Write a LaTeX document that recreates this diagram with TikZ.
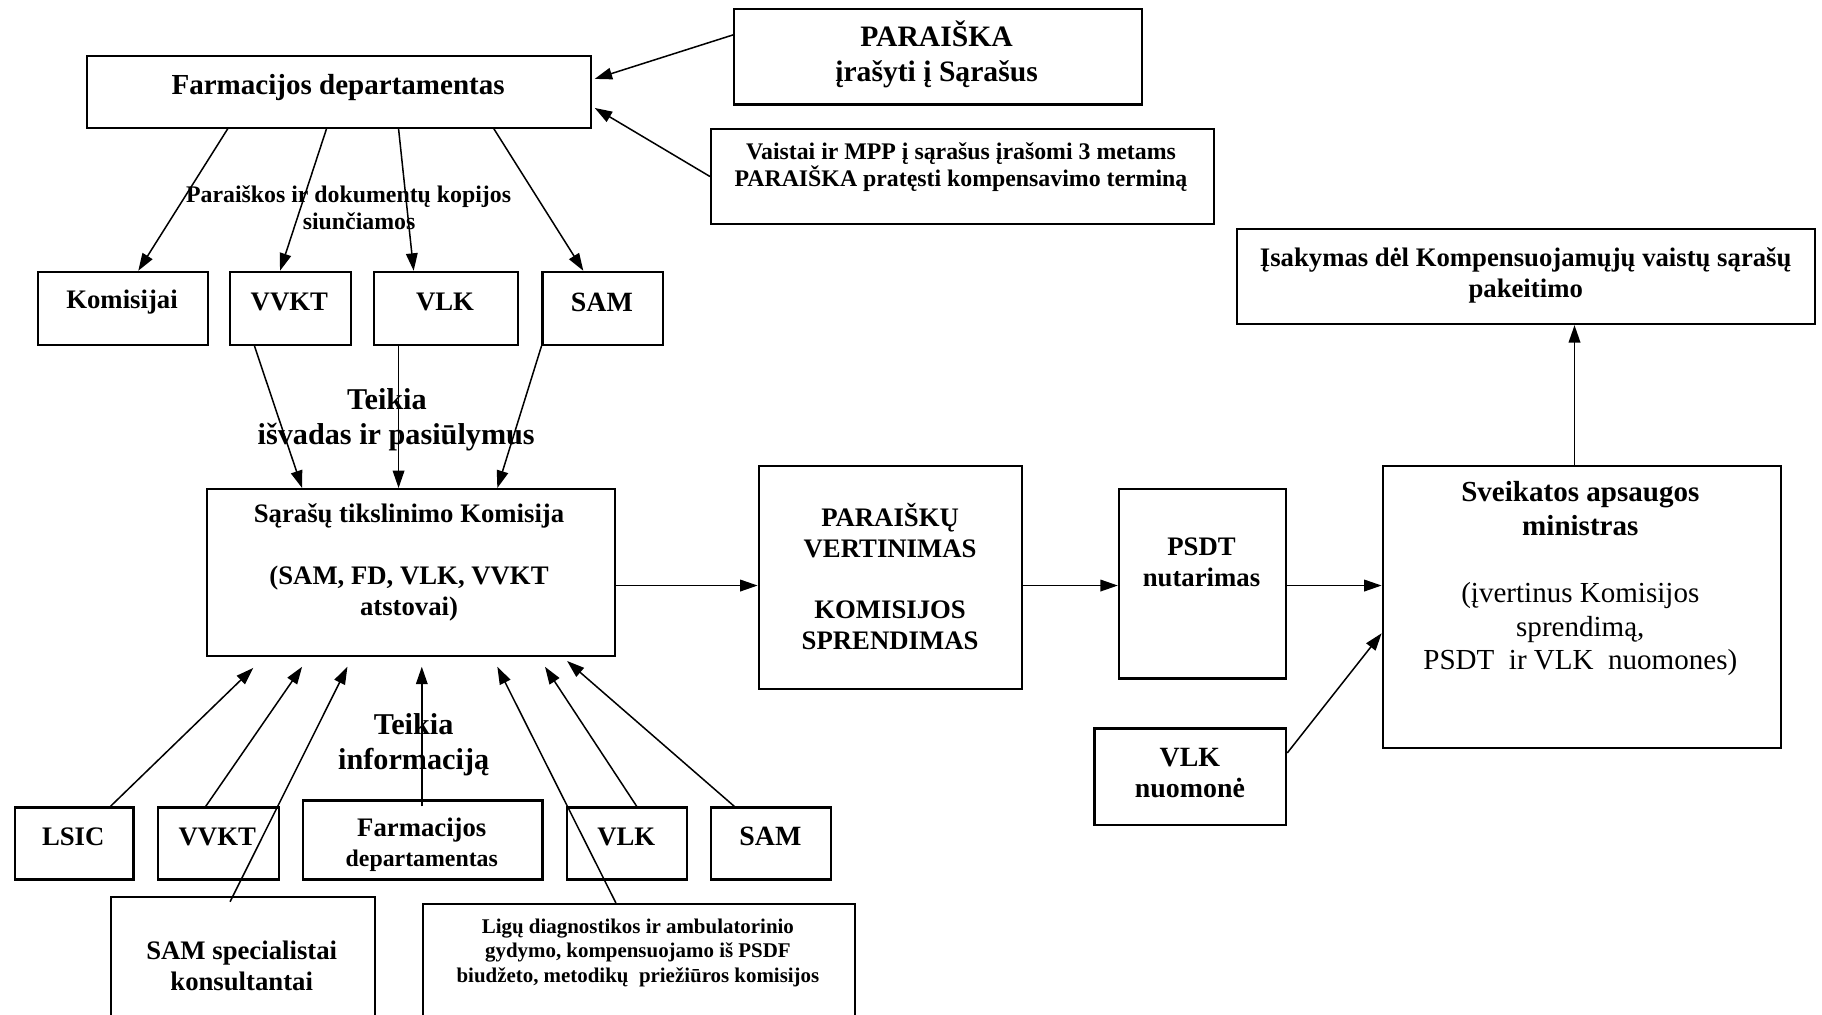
\documentclass[tikz,border=0pt]{standalone}
\usepackage{fontspec}
\setmainfont{Liberation Serif}
\usetikzlibrary{arrows.meta}
\newcommand\myfs[2]{\fontsize{#1}{#2}\selectfont}
\newcommand\mybox[5]{\node[box, anchor=north west, minimum width={(#3-#1)*1pt}, minimum height={(#4-#2)*1pt}] (#5) at (#1,#2) {};}
\begin{document}
\begin{tikzpicture}[x=1pt,y=-1pt,
  box/.style={draw, line width=1.8pt, inner sep=0pt},
  arr/.style={-{Triangle[length=15pt,width=10pt]}, line width=1.3pt},
  txt/.style={align=center, inner sep=0pt}]
\fill[white] (0,0) rectangle (1568,873);
\useasboundingbox (0,0) rectangle (1568,873);
% boxes
\mybox{74}{47}{508}{109}{fd}
\mybox{631}{7}{982}{89}{par}
\mybox{611}{110}{1044}{192}{vai}
\mybox{32}{233}{178}{296}{komj}
\mybox{197}{233}{301}{296}{vvkt}
\mybox{321}{233}{445}{296}{vlk}
\mybox{466}{233}{570}{296}{sam}
\mybox{177}{420}{528}{564}{kom}
\mybox{652}{400}{879}{592}{pv}
\mybox{962}{420}{1106}{583}{psdt}
\mybox{1189}{400}{1532}{643}{min}
\mybox{1064}{196}{1561}{278}{isak}
\mybox{941}{626}{1106}{709}{vlkn}
\mybox{12}{694}{114}{756}{lsic}
\mybox{135}{694}{239}{756}{vvktb}
\mybox{260}{688}{466}{756}{fdb}
\mybox{487}{694}{590}{756}{vlkb}
\mybox{611}{694}{714}{756}{samb}
\mybox{95}{771}{322}{885}{ss}
\mybox{363}{777}{735}{885}{lig}
% texts
\node[txt, font=\myfs{25}{29}\bfseries] (tfd) at (291,75) {Farmacijos departamentas};
\node[txt, font=\myfs{25.5}{30}\bfseries] (tpar) at (806,47) {PARAIŠKA\\įrašyti į Sąrašus};
\node[txt, font=\myfs{20.5}{23}\bfseries] (tvai) at (827,144) {Vaistai ir MPP į sąrašus įrašomi 3 metams\\PARAIŠKA pratęsti kompensavimo terminą};
\node[txt, font=\myfs{20.5}{23}\bfseries] (lpar) at (300,179) {Paraiškos ir dokumentų kopijos\\\hspace*{18pt}siunčiamos};
\node[txt, font=\myfs{23}{26}\bfseries] (tkomj) at (105,260) {Komisijai};
\node[txt, font=\myfs{23}{26}\bfseries] (tvvkt) at (249,260) {VVKT};
\node[txt, font=\myfs{23}{26}\bfseries] (tvlk) at (383,260) {VLK};
\node[txt, font=\myfs{24}{26}\bfseries] (tsam) at (518,260) {SAM};
\node[txt, font=\myfs{26}{30}\bfseries] (lteik) at (341,361) {Teikia\hspace*{16pt}\\išvadas ir pasiūlymus};
\node[txt, font=\myfs{23}{26.5}\bfseries] (tkom) at (352,484) {Sąrašų tikslinimo Komisija\\[26.5pt](SAM, FD, VLK, VVKT\\atstovai)};
\node[txt, font=\myfs{23}{26.5}\bfseries] (tpv) at (766,496) {PARAIŠKŲ\\VERTINIMAS\\[26.5pt]KOMISIJOS\\SPRENDIMAS};
\node[txt, font=\myfs{23}{27}\bfseries] (tpsdt) at (1034,484) {PSDT\\nutarimas};
\node[txt, font=\myfs{25}{29}] (tmin) at (1360,498) {{\bfseries Sveikatos apsaugos}\\{\bfseries ministras}\\[29pt](įvertinus Komisijos\\sprendimą,\\PSDT\ \ ir VLK\ \ nuomones)};
\node[txt, font=\myfs{23}{27}\bfseries] (tisak) at (1313,237) {Įsakymas dėl Kompensuojamųjų vaistų sąrašų\\pakeitimo};
\node[txt, font=\myfs{24}{27}\bfseries] (tvlkn) at (1024,665) {VLK\\nuomonė};
\node[txt, font=\myfs{23}{26}\bfseries] (tlsic) at (63,720) {LSIC};
\node[txt, font=\myfs{23}{26}\bfseries] (tvvktb) at (187,720) {VVKT};
\node[txt, font=\myfs{23}{26}\bfseries] (tfdb) at (363,727) {Farmacijos\\{\myfs{20.5}{26}departamentas}};
\node[txt, font=\myfs{23}{26}\bfseries] (tvlkb) at (539,720) {VLK};
\node[txt, font=\myfs{24}{26}\bfseries] (tsamb) at (663,720) {SAM};
\node[txt, font=\myfs{23}{27}\bfseries] (tss) at (208,831) {SAM specialistai\\konsultantai};
\node[txt, font=\myfs{18}{21}\bfseries] (tlig) at (549,820) {Ligų diagnostikos ir ambulatorinio\\gydymo, kompensuojamo iš PSDF\\biudžeto, metodikų\ \ priežiūros komisijos};
\node[txt, font=\myfs{26}{30}\bfseries] (lteik2) at (356,641) {Teikia\\informaciją};
% arrows top
\draw[arr] ([yshift=-23pt]par.north west) -- ([xshift=2pt,yshift=11pt]fd.east);
\draw[arr] (vai.west) -- ([xshift=2pt,yshift=-14pt]fd.east);
\draw[arr] ([xshift=122pt]fd.south west) -- ([xshift=87pt]komj.north west);
\draw[arr] ([xshift=207pt]fd.south west) -- ([xshift=44pt]vvkt.north west);
\draw[arr] ([xshift=269pt]fd.south west) -- ([xshift=35pt]vlk.north west);
\draw[arr] ([xshift=351pt]fd.south west) -- ([xshift=36pt]sam.north west);
% to komisija from top
\draw[arr] ([xshift=22pt]vvkt.south west) -- ([xshift=83pt]kom.north west);
\draw[arr] ([xshift=22pt]vlk.south west) -- ([xshift=166pt]kom.north west);
\draw[arr] (sam.south west) -- ([xshift=251pt]kom.north west);
% main flow
\draw[arr] ([yshift=-11pt]kom.east) -- ([yshift=-7pt]pv.west);
\draw[arr] ([yshift=-7pt]pv.east) -- ([yshift=-1.5pt]psdt.west);
\draw[arr] ([yshift=-1.5pt]psdt.east) -- ([yshift=18.5pt]min.west);
\draw[arr] ([xshift=166pt]min.north west) -- ([xshift=291pt]isak.south west);
\draw[arr] ([yshift=-22pt]vlkn.north east) -- ([yshift=-145pt]min.north west);
% bottom to komisija
\draw[arr] ([xshift=83pt]lsic.north west) -- ([xshift=41pt,yshift=-9pt]kom.south west);
\draw[arr] ([xshift=42pt]vvktb.north west) -- ([xshift=83pt,yshift=-8pt]kom.south west);
\draw[arr] ([xshift=103pt,yshift=-5pt]ss.north west) -- ([xshift=122pt,yshift=-8pt]kom.south west);
\draw[arr] ([xshift=103pt,yshift=-6pt]fdb.north west) -- ([xshift=186pt,yshift=-8pt]kom.south west);
\draw[arr] ([xshift=167pt]lig.north west) -- ([xshift=251pt,yshift=-8pt]kom.south west);
\draw[arr] ([xshift=61pt]vlkb.north west) -- ([xshift=292pt,yshift=-8pt]kom.south west);
\draw[arr] ([xshift=21pt]samb.north west) -- ([xshift=311pt,yshift=-3pt]kom.south west);
\end{tikzpicture}
\end{document}
